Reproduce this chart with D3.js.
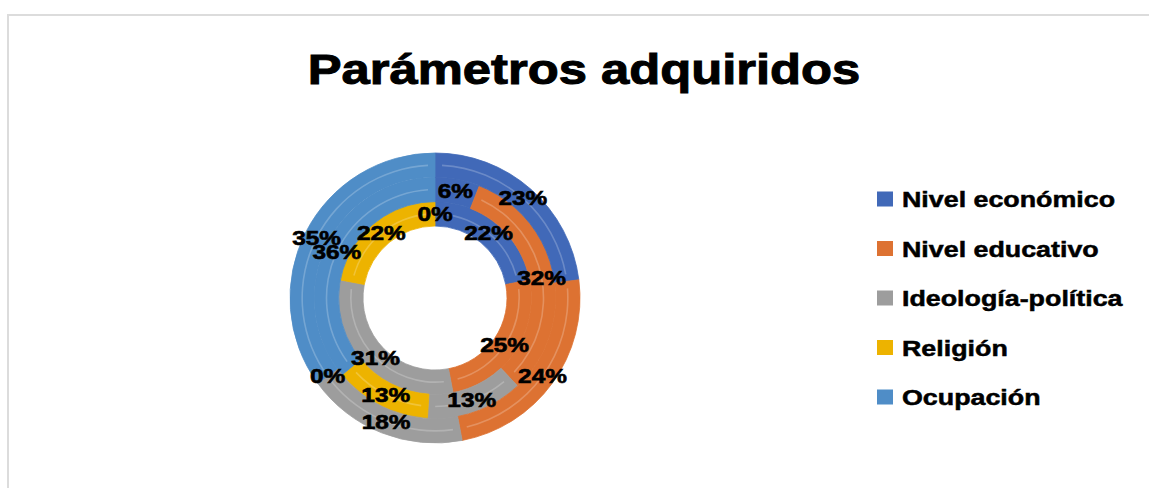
<!DOCTYPE html>
<html>
<head>
<meta charset="utf-8">
<script src="https://cdn.jsdelivr.net/npm/d3@7"></script>
<style>
  body { margin: 0; background: #fff; }
  text { font-family: "Liberation Sans", Arial, sans-serif; font-weight: bold; }
</style>
</head>
<body>
<svg id="chart"></svg>
<script>
// Doughnut with three rings (inner -> outer), values in percent

const categories = ["Nivel económico", "Nivel educativo", "Ideología-política", "Religión", "Ocupación"];
const colors = ["#4169b8", "#dd7232", "#9d9d9d", "#edb300", "#4f8dc7"];

const ringInner = [22, 25, 31, 22, 0];
const ringMiddle = [6, 32, 13, 13, 36];
const ringOuter = [23, 24, 18, 0, 35];
const rings = [ringInner, ringMiddle, ringOuter];

const width = 1149, height = 488;
const cx = 435, cy = 298;
const hole = 72, outerR = 145;

const svg = d3.select("#chart")
    .attr("width", width)
    .attr("height", height);

// chart area border (only top and left show in the crop)
svg.append("rect")
    .attr("x", 8).attr("y", 15)
    .attr("width", 1300).attr("height", 600)
    .attr("fill", "#fff")
    .attr("stroke", "#dcdcdc")
    .attr("stroke-width", 2);

// title
svg.append("text")
    .attr("transform", "translate(584,84) scale(1.18,1)")
    .attr("text-anchor", "middle")
    .style("font-size", "43px")
    .attr("stroke", "#000").attr("stroke-width", 1)
    .text("Parámetros adquiridos");

// ring radii from a band scale
const ringScale = d3.scaleBand()
    .domain(d3.range(rings.length))
    .range([hole, outerR])
    .paddingInner(0);

const pie = d3.pie().sort(null).value(d => d);

const g = svg.append("g").attr("transform", `translate(${cx},${cy})`);

rings.forEach((vals, ri) => {
    const r0 = ringScale(ri);
    const r1 = r0 + ringScale.bandwidth();
    const rm = (r0 + r1) / 2;
    const arc = d3.arc().innerRadius(r0).outerRadius(r1);
    const slices = pie(vals);

    g.selectAll(null)
        .data(slices.filter(d => d.value > 0))
        .enter().append("path")
        .attr("d", arc)
        .attr("fill", d => colors[d.index])
        .attr("stroke", d => colors[d.index])
        .attr("stroke-width", 0.8);

    // faint highlight line along each slice
    const trim = 7 / rm;
    const line = d3.arc().innerRadius(rm - 0.8).outerRadius(rm + 0.8);
    g.selectAll(null)
        .data(slices.filter(d => d.value > 0))
        .enter().append("path")
        .attr("d", d => line({ startAngle: d.startAngle + trim, endAngle: d.endAngle - trim }))
        .attr("fill", "#fff")
        .attr("opacity", 0.22);
});

// data labels on top of all rings
rings.forEach((vals, ri) => {
    const r0 = ringScale(ri);
    const rm = r0 + ringScale.bandwidth() / 2;
    const labelArc = d3.arc().innerRadius(rm).outerRadius(rm);
    pie(vals).forEach(d => {
        const [x, y] = labelArc.centroid(d);
        g.append("text")
            .attr("transform", `translate(${x},${y + 7}) scale(1.25,1)`)
            .attr("text-anchor", "middle")
            .style("font-size", "19.5px")
            .attr("fill", "#000")
            .attr("stroke", "#000").attr("stroke-width", 0.6)
            .text(d.value + "%");
    });
});

// legend
const legend = svg.append("g").attr("transform", "translate(877,0)");
const legendY = d3.scalePoint()
    .domain(categories)
    .range([199, 397]);

categories.forEach((c, i) => {
    const y = legendY(c);
    legend.append("rect")
        .attr("x", 0).attr("y", y - 7.5)
        .attr("width", 16).attr("height", 15)
        .attr("fill", colors[i]);
    legend.append("text")
        .attr("transform", `translate(25,${y + 8}) scale(1.22,1)`)
        .style("font-size", "22px")
        .attr("stroke", "#000").attr("stroke-width", 0.5)
        .text(c);
});
</script>
</body>
</html>
